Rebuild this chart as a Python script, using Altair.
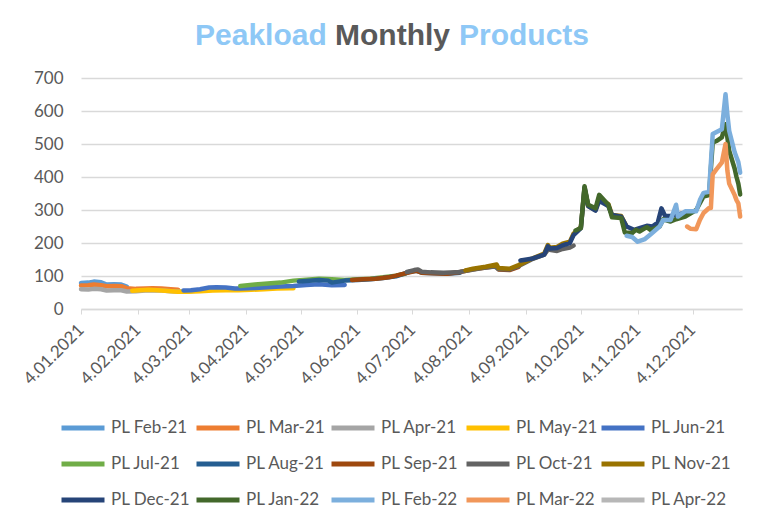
import altair as alt
import pandas as pd

series_names = ["PL Feb-21", "PL Mar-21", "PL Apr-21", "PL May-21", "PL Jun-21",
                "PL Jul-21", "PL Aug-21", "PL Sep-21", "PL Oct-21", "PL Nov-21",
                "PL Dec-21", "PL Jan-22", "PL Feb-22", "PL Mar-22", "PL Apr-22"]
series_colors = ["#5B9BD5", "#ED7D31", "#A5A5A5", "#FFC000", "#4472C4", "#70AD47",
                 "#255E91", "#9E480E", "#636363", "#997300", "#264478", "#43682B",
                 "#7CAFDD", "#F1975A", "#B7B7B7"]

tick_dates = ["2021-01-04", "2021-02-04", "2021-03-04", "2021-04-04", "2021-05-04",
              "2021-06-04", "2021-07-04", "2021-08-04", "2021-09-04", "2021-10-04",
              "2021-11-04", "2021-12-04"]
x_domain = ["2021-01-04", "2021-12-31"]
y_ticks = [0, 100, 200, 300, 400, 500, 600, 700]

feb21_dates = ["01-04", "01-08", "01-11", "01-15", "01-18", "01-22", "01-26", "01-29"]
feb21_vals = [79, 80, 83, 81, 74, 75, 74, 68]

mar21_dates = ["01-04", "01-08", "01-11", "01-15", "01-18", "01-22", "01-26", "01-29",
               "02-03", "02-08", "02-12", "02-17", "02-22", "02-26"]
mar21_vals = [71, 72, 74, 72, 69, 70, 69, 63, 61, 62, 63, 62, 60, 58]

apr21_dates = ["01-04", "01-08", "01-11", "01-15", "01-18", "01-22", "01-26", "01-29",
               "02-03", "02-08", "02-12", "02-17", "02-22", "02-26",
               "03-03", "03-10", "03-17", "03-24", "03-31"]
apr21_vals = [60, 59, 61, 60, 56, 57, 57, 53, 54, 56, 57, 56, 54, 53, 53, 57, 61, 60, 59]

may21_dates = ["02-01", "02-05", "02-10", "02-15", "02-19", "02-24", "02-26",
               "03-03", "03-10", "03-17", "03-24", "03-31",
               "04-07", "04-14", "04-21", "04-28", "04-30"]
may21_vals = [55, 57, 58, 57, 55, 53, 52, 52, 54, 56, 57, 57, 58, 60, 62, 63, 63]

jun21_dates = ["03-01", "03-05", "03-10", "03-15", "03-19", "03-24", "03-29",
               "04-01", "04-09", "04-16", "04-23", "04-30",
               "05-07", "05-14", "05-21", "05-28"]
jun21_vals = [56, 57, 60, 65, 66, 65, 62, 62, 64, 66, 68, 70, 73, 75, 72, 73]

jul21_dates = ["04-01", "04-09", "04-16", "04-23", "04-30",
               "05-07", "05-14", "05-21", "05-28",
               "06-04", "06-11", "06-18", "06-25", "06-30"]
jul21_vals = [70, 74, 77, 80, 86, 89, 92, 90, 88, 90, 92, 96, 101, 107]

aug21_dates = ["05-03", "05-07", "05-14", "05-19", "05-21", "05-28",
               "06-04", "06-11", "06-18", "06-25",
               "07-02", "07-06", "07-09", "07-16", "07-23", "07-30"]
aug21_vals = [83, 85, 88, 86, 80, 86, 88, 90, 94, 99, 112, 116, 110, 108, 107, 110]

sep21_dates = ["06-01", "06-07", "06-14", "06-21", "06-25", "06-30",
               "07-06", "07-09", "07-16", "07-23", "07-30",
               "08-06", "08-13", "08-19", "08-20", "08-26", "08-31"]
sep21_vals = [88, 90, 92, 96, 101, 108, 116, 110, 108, 107, 112, 120, 126, 130, 120, 118, 128]

oct21_dates = ["07-01", "07-05", "07-07", "07-09", "07-14", "07-21", "07-28",
               "08-04", "08-11", "08-18", "08-20", "08-26", "08-31",
               "09-07", "09-14", "09-16", "09-21", "09-24", "09-28", "09-30"]
oct21_vals = [112, 118, 120, 113, 111, 110, 111, 117, 124, 129, 121, 120, 130,
              150, 165, 180, 176, 182, 186, 192]

nov21_dates = ["08-02", "08-06", "08-13", "08-19", "08-20", "08-26", "08-31",
               "09-07", "09-14", "09-16", "09-17", "09-21", "09-24", "09-28", "09-30",
               "10-04", "10-06", "10-08", "10-12", "10-14", "10-19", "10-21", "10-26", "10-29"]
nov21_vals = [117, 122, 128, 135, 124, 122, 133, 152, 168, 194, 186, 188, 198, 204, 228,
              248, 365, 312, 300, 335, 318, 285, 282, 250]

dec21_dates = ["09-01", "09-07", "09-14", "09-16", "09-17", "09-21", "09-24", "09-28", "09-30",
               "10-04", "10-06", "10-08", "10-12", "10-14", "10-19", "10-21", "10-26", "10-29",
               "11-02", "11-05", "11-09", "11-12", "11-15", "11-17", "11-19", "11-22", "11-25", "11-30"]
dec21_vals = [147, 152, 165, 190, 183, 185, 193, 200, 224,
              245, 368, 312, 298, 328, 312, 285, 280, 250,
              240, 245, 252, 250, 262, 305, 282, 282, 285, 292]

jan22_dates = ["10-01", "10-04", "10-06", "10-08", "10-12", "10-14", "10-19", "10-21", "10-26", "10-28",
               "11-01", "11-03", "11-05", "11-09", "11-11", "11-16", "11-18", "11-22", "11-25", "11-30",
               "12-03", "12-06", "12-10", "12-13", "12-15", "12-17", "12-20", "12-22", "12-23",
               "12-24", "12-27", "12-28", "12-29", "12-30"]
jan22_vals = [238, 245, 372, 316, 305, 346, 316, 278, 276, 232,
              230, 240, 235, 248, 240, 250, 272, 265, 272, 280,
              290, 300, 341, 345, 504, 509, 520, 560, 520,
              480, 425, 400, 380, 347]

feb22_dates = ["10-29", "11-01", "11-04", "11-08", "11-11", "11-16", "11-18", "11-22", "11-25",
               "11-26", "11-30", "12-03", "12-06", "12-08", "12-10", "12-13", "12-15", "12-20",
               "12-22", "12-23", "12-24", "12-27", "12-28", "12-29", "12-30"]
feb22_vals = [222, 218, 204, 212, 226, 250, 270, 270, 316,
              280, 296, 296, 296, 330, 352, 355, 530, 545,
              651, 590, 540, 475, 460, 445, 413]

mar22_dates = ["12-01", "12-03", "12-06", "12-08", "12-10", "12-13", "12-14", "12-15", "12-17",
               "12-20", "12-22", "12-23", "12-24", "12-27", "12-28", "12-29", "12-30"]
mar22_vals = [250, 243, 242, 270, 291, 306, 306, 408, 423,
              444, 500, 420, 380, 345, 330, 320, 280]

apr22_dates = []
apr22_vals = []

all_dates = [feb21_dates, mar21_dates, apr21_dates, may21_dates, jun21_dates, jul21_dates,
             aug21_dates, sep21_dates, oct21_dates, nov21_dates, dec21_dates, jan22_dates,
             feb22_dates, mar22_dates, apr22_dates]
all_vals = [feb21_vals, mar21_vals, apr21_vals, may21_vals, jun21_vals, jul21_vals,
            aug21_vals, sep21_vals, oct21_vals, nov21_vals, dec21_vals, jan22_vals,
            feb22_vals, mar22_vals, apr22_vals]

rows = []
for idx, (name, ds, vs) in enumerate(zip(series_names, all_dates, all_vals)):
    for d, v in zip(ds, vs):
        rows.append({"series": name, "idx": idx, "date": "2021-" + d, "value": v})
df = pd.DataFrame(rows)


def dt(s):
    y, m, d = (int(p) for p in s.split("-"))
    return alt.DateTime(year=y, month=m, date=d, utc=True)


FONT = "Lato"
GREY = "#595959"
BLUE_T = "#8EC8F6"

lines = alt.Chart(df).mark_line(strokeWidth=4.5, strokeJoin="round", strokeCap="round").encode(
    x=alt.X("date:T",
            scale=alt.Scale(type="utc", domain=[dt(s) for s in x_domain]),
            axis=alt.Axis(values=[dt(s) for s in tick_dates],
                          labelExpr="utcFormat(datum.value, '%-d.%m.%Y')",
                          labelAngle=-45, labelAlign="right",
                          labelBaseline="middle", labelPadding=13, tickSize=5,
                          tickColor="#D9D9D9", domainColor="#D9D9D9", domainWidth=1.5,
                          grid=False, labelColor=GREY, labelFont=FONT, labelFontSize=17,
                          labelOverlap=False, title=None)),
    y=alt.Y("value:Q",
            scale=alt.Scale(domain=[0, 700], nice=False),
            axis=alt.Axis(values=y_ticks, grid=True, gridColor="#D9D9D9", gridWidth=1.5,
                          domain=False, ticks=False, tickSize=0, labelPadding=18,
                          labelColor=GREY, labelFont=FONT, labelFontSize=17, title=None)),
    color=alt.Color("series:N",
                    scale=alt.Scale(domain=series_names, range=series_colors),
                    sort=series_names,
                    legend=alt.Legend(orient="none", legendX=-22, legendY=326,
                                      columns=5, direction="horizontal",
                                      symbolType="stroke", symbolSize=1849,
                                      symbolStrokeWidth=5, labelOffset=4,
                                      labelFont=FONT, labelFontSize=17, labelColor=GREY,
                                      columnPadding=-7, rowPadding=2, gridAlign="all",
                                      padding=0, title=None, labelLimit=200)),
    order=alt.Order("idx:Q"),
)

title_df = pd.DataFrame({"t": ["x"]})
base_t = alt.Chart(title_df)
t1 = base_t.mark_text(text="Peakload", font="Liberation Sans", fontWeight="bold", fontSize=30,
                      color=BLUE_T, align="left", baseline="alphabetic").encode(
    x=alt.value(114), y=alt.value(-33))
t2 = base_t.mark_text(text="Monthly", font="Liberation Sans", fontWeight="bold", fontSize=30,
                      color=GREY, align="left", baseline="alphabetic").encode(
    x=alt.value(254), y=alt.value(-33))
t3 = base_t.mark_text(text="Products", font="Liberation Sans", fontWeight="bold", fontSize=30,
                      color=BLUE_T, align="left", baseline="alphabetic").encode(
    x=alt.value(378), y=alt.value(-33))

chart = alt.layer(lines, t1, t2, t3).properties(
    width=661, height=231,
    padding={"left": 73, "top": 70, "right": 30, "bottom": 206},
    autosize=alt.AutoSizeParams(type="none"),
    background="white",
).configure_view(stroke=None)

chart.save("out.html", embed_options={"renderer": "svg", "actions": False})
